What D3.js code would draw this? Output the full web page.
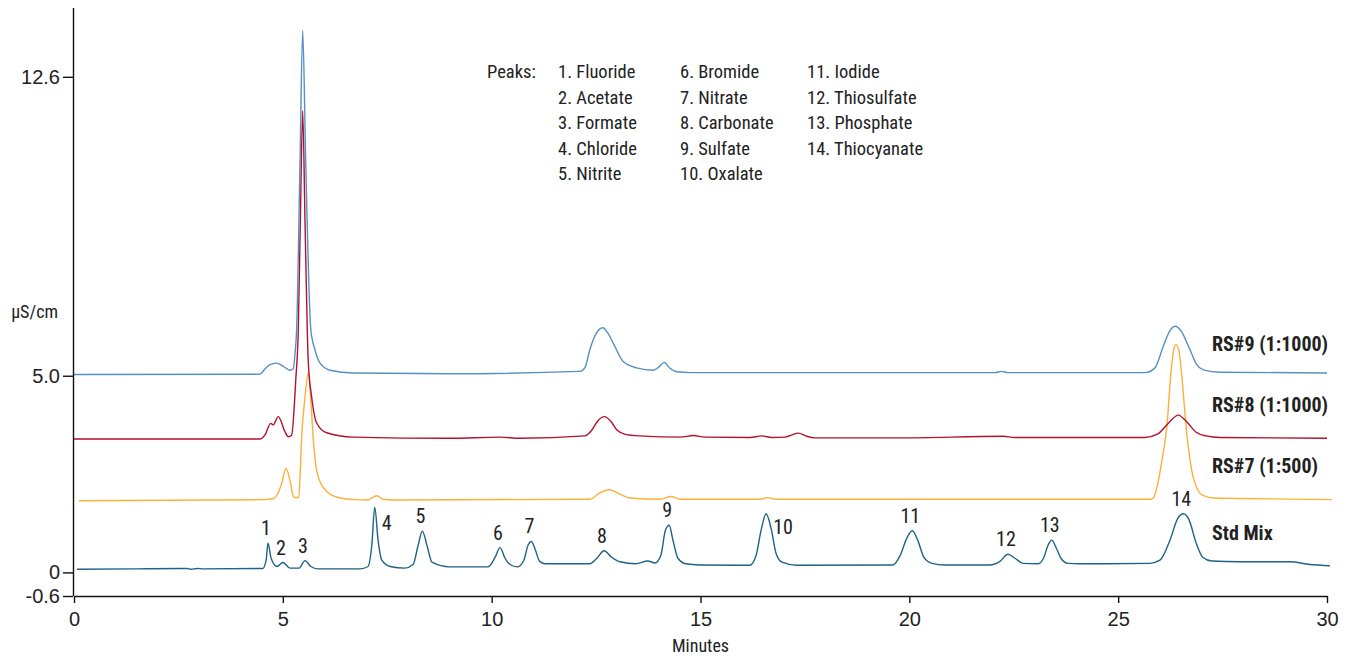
<!DOCTYPE html>
<html>
<head>
<meta charset="utf-8">
<script src="https://cdn.jsdelivr.net/npm/d3@7/dist/d3.min.js"></script>
<style>
  html, body { margin: 0; padding: 0; background: #fff; }
  svg { display: block; }
  text { font-family: "Liberation Sans Narrow", "Arial Narrow", "Roboto Condensed", sans-serif; fill: #222; }
</style>
</head>
<body>
<svg id="chart" width="1348" height="659"></svg>
<script>
// Retention time (min) and conductivity (µS/cm) pairs for each stacked chromatogram.
const stdMix = [
  [0.07,0.08],[1.5,0.09],[2.7,0.1],[2.8,0.08],[2.95,0.1],[3.1,0.09],[4.52,0.1],[4.6,0.31],[4.645,0.74],[4.72,0.36],
  [4.86,0.15],[5.0,0.25],[5.17,0.11],[5.39,0.11],[5.53,0.3],[5.67,0.15],[5.84,0.09],
  [6.85,0.09],[7.04,0.15],[7.13,0.69],[7.2,1.66],[7.28,0.82],[7.37,0.31],[7.57,0.15],
  [7.92,0.11],[8.12,0.2],[8.24,0.69],[8.34,1.05],[8.45,0.69],[8.57,0.26],[9.0,0.14],
  [9.91,0.14],[10.08,0.38],[10.2,0.63],[10.32,0.36],[10.44,0.2],[10.61,0.14],
  [10.77,0.31],[10.87,0.69],[10.95,0.79],[11.04,0.59],[11.15,0.28],[11.28,0.22],
  [12.35,0.22],[12.52,0.36],[12.69,0.55],[12.88,0.38],[13.07,0.27],[13.45,0.22],
  [13.74,0.29],[13.91,0.24],[14.05,0.43],[14.16,1.07],[14.25,1.2],[14.34,0.82],[14.46,0.36],[14.65,0.22],
  [14.99,0.19],[16.18,0.18],[16.33,0.43],[16.45,1.07],[16.57,1.49],[16.69,1.12],[16.81,0.48],[16.95,0.26],
  [17.31,0.18],[19.61,0.19],[19.78,0.43],[19.94,0.87],[20.07,1.06],[20.2,0.82],[20.35,0.38],[20.54,0.23],
  [20.85,0.19],[21.93,0.19],[22.17,0.28],[22.36,0.46],[22.53,0.36],[22.72,0.23],
  [23.08,0.22],[23.22,0.38],[23.32,0.69],[23.41,0.82],[23.51,0.64],[23.63,0.36],[23.8,0.23],
  [24.08,0.22],[25.76,0.23],[26.0,0.31],[26.24,0.82],[26.43,1.38],[26.56,1.49],[26.7,1.33],
  [26.86,0.77],[27.03,0.38],[27.24,0.29],[27.91,0.27],[29.11,0.27],[29.59,0.2],[30.07,0.17]
];

const rs7 = [
  [0.12,1.82],[4.57,1.85],[4.78,1.88],[4.88,2.0],[4.96,2.22],[5.08,2.64],[5.17,2.34],[5.26,1.92],
  [5.33,1.9],[5.38,1.92],[5.46,3.62],[5.53,4.46],[5.61,5.08],[5.67,4.39],[5.73,3.37],[5.81,2.6],
  [5.96,2.17],[6.3,1.91],[6.73,1.85],[7.04,1.84],[7.16,1.91],[7.25,1.95],[7.4,1.86],[7.68,1.84],
  [12.35,1.86],[12.59,2.02],[12.81,2.1],[13.07,1.99],[13.31,1.89],[14.03,1.86],[14.3,1.93],[14.51,1.86],
  [16.42,1.86],[16.61,1.9],[16.81,1.86],[25.76,1.86],[25.84,1.89],[25.95,2.27],[26.05,2.86],
  [26.17,3.75],[26.26,5.03],[26.33,5.66],[26.38,5.79],[26.45,5.66],[26.52,5.03],[26.64,3.55],
  [26.76,2.6],[26.91,2.09],[27.03,1.96],[27.3,1.89],[27.91,1.88],[30.12,1.85]
];

const rs8 = [
  [0.0,3.39],[4.45,3.39],[4.57,3.49],[4.71,3.79],[4.77,3.75],[4.89,3.96],[5.05,3.58],[5.13,3.45],
  [5.21,3.49],[5.31,4.9],[5.37,6.17],[5.42,8.98],[5.475,11.73],[5.53,8.98],[5.585,6.17],[5.61,5.33],
  [5.69,4.46],[5.81,3.8],[6.05,3.55],[6.68,3.44],[9.0,3.41],[10.2,3.44],[10.68,3.41],
  [12.23,3.47],[12.4,3.62],[12.54,3.85],[12.7,3.96],[12.86,3.83],[13.0,3.62],[13.2,3.51],[13.55,3.47],
  [14.51,3.44],[14.83,3.48],[15.11,3.44],[16.18,3.43],[16.47,3.47],[16.71,3.43],[17.02,3.44],
  [17.34,3.54],[17.52,3.47],[17.74,3.42],[19.78,3.42],[22.24,3.46],[22.53,3.43],[25.64,3.43],
  [25.95,3.52],[26.19,3.78],[26.44,4.0],[26.64,3.83],[26.86,3.57],[27.1,3.47],[27.44,3.43],[30.0,3.41]
];

const rs9 = [
  [0.0,5.03],[4.45,5.04],[4.57,5.17],[4.69,5.28],[4.85,5.32],[5.01,5.24],[5.17,5.14],[5.25,5.18],
  [5.29,5.54],[5.33,6.17],[5.41,10.33],[5.475,13.78],[5.55,10.33],[5.67,6.17],[5.77,5.66],[5.89,5.32],
  [6.13,5.14],[6.69,5.07],[9.0,5.05],[12.11,5.11],[12.23,5.2],[12.35,5.66],[12.5,6.07],[12.66,6.22],
  [12.79,6.07],[12.91,5.83],[13.15,5.36],[13.47,5.2],[13.87,5.14],[14.0,5.22],[14.13,5.34],[14.27,5.19],
  [14.43,5.1],[14.75,5.08],[22.05,5.08],[22.21,5.11],[22.36,5.08],[25.64,5.08],[25.88,5.2],[26.08,5.75],
  [26.24,6.15],[26.37,6.26],[26.5,6.15],[26.72,5.66],[26.88,5.28],[27.04,5.15],[27.44,5.09],[30.0,5.07]
];

// Series names, drawn at the right end of each trace (top to bottom).
const seriesNames = ["RS#9 (1:1000)", "RS#8 (1:1000)", "RS#7 (1:500)", "Std Mix"];
const seriesLabelLevels = [5.81, 4.26, 2.71, 1.0];

// Peak numbers and their retention times in the standard mix.
const peakNumbers = [1,2,3,4,5,6,7,8,9,10,11,12,13,14];
const peakTimes = [4.645,5.0,5.53,7.2,8.34,10.2,10.95,12.69,14.25,16.57,20.07,22.36,23.41,26.56];

// Peak identification key.
const peakNames = ["Fluoride","Acetate","Formate","Chloride","Nitrite","Bromide","Nitrate",
  "Carbonate","Sulfate","Oxalate","Iodide","Thiosulfate","Phosphate","Thiocyanate"];

// Axis ticks.
const xTicks = [0,5,10,15,20,25,30];
const yTicks = [-0.6, 0, 5.0, 12.6];
const yTickLabels = ["-0.6", "0", "5.0", "12.6"];

const svg = d3.select("#chart");
const x = d3.scaleLinear().domain([0, 30]).range([74, 1327]);
const y = d3.scaleLinear().domain([-0.6, 14.35]).range([596, 8]);

const line = d3.line()
  .x(d => x(d[0]))
  .y(d => y(d[1]))
  .curve(d3.curveMonotoneX);

const traces = [
  { data: rs9, color: "#5590c4" },
  { data: rs8, color: "#b3112c" },
  { data: rs7, color: "#fdb03a" },
  { data: stdMix, color: "#1d6383" }
];

// Draw back to front so the blue and red spikes sit over the yellow one.
const drawOrder = [3, 2, 1, 0];
svg.append("g").selectAll("path")
  .data(drawOrder.map(i => traces[i]))
  .join("path")
  .attr("d", d => line(d.data))
  .attr("fill", "none")
  .attr("stroke", d => d.color)
  .attr("stroke-width", 1.4)
  .attr("stroke-linejoin", "round");

// Axes
const xAxis = d3.axisBottom(x).tickValues(xTicks).tickFormat(d3.format("d"))
  .tickSizeInner(7).tickSizeOuter(0).tickPadding(9);
const gx = svg.append("g").attr("transform", `translate(0,${y(-0.6)})`).call(xAxis);

const yAxis = d3.axisLeft(y).tickValues(yTicks)
  .tickFormat((d, i) => yTickLabels[i])
  .tickSizeInner(10).tickSizeOuter(0).tickPadding(3);
const gy = svg.append("g").attr("transform", `translate(${x(0) - 1},0)`).call(yAxis);

[gx, gy].forEach(g => {
  g.select(".domain").attr("stroke", "#111").attr("stroke-width", 1.4);
  g.selectAll(".tick line").attr("stroke", "#111").attr("stroke-width", 1.4);
  g.selectAll(".tick text")
    .style("font-family", "'Liberation Sans Narrow', 'Arial Narrow', sans-serif")
    .style("font-size", "20px").attr("fill", "#222");
});
gy.select(".domain").attr("d", `M0.5,${y(-0.6)}V8`);

// Axis titles
svg.append("text").attr("x", x(15)).attr("y", 652)
  .attr("text-anchor", "middle").style("font-size", "18px").text("Minutes");
svg.append("text").attr("x", 58).attr("y", 318)
  .attr("text-anchor", "end").style("font-size", "18px").text("µS/cm");

// Series labels
svg.append("g").selectAll("text")
  .data(seriesNames)
  .join("text")
  .attr("x", 1212)
  .attr("y", (d, i) => y(seriesLabelLevels[i]) + 7)
  .style("font-size", "20px").style("font-weight", "bold").attr("fill", "#111")
  .text(d => d);

// Peak numbers above the standard-mix peaks
const apexValue = t => {
  let best = stdMix[0];
  stdMix.forEach(p => { if (Math.abs(p[0] - t) < Math.abs(best[0] - t)) best = p; });
  return best[1];
};
const labelShift = { 4: [12, 23], 10: [17, 20] };
svg.append("g").selectAll("text")
  .data(peakNumbers)
  .join("text")
  .attr("x", (d, i) => x(peakTimes[i]) + (labelShift[d] ? labelShift[d][0] : -2))
  .attr("y", (d, i) => y(apexValue(peakTimes[i])) + (labelShift[d] ? labelShift[d][1] : -8))
  .attr("text-anchor", "middle")
  .style("font-size", "20px").attr("fill", "#222")
  .text(d => d);

// Peak key
const key = svg.append("g").style("font-size", "18.5px");
key.append("text").attr("x", 487).attr("y", 78).text("Peaks:");
const colX = [558, 680, 807];
peakNames.forEach((name, i) => {
  const col = Math.floor(i / 5), row = i % 5;
  key.append("text")
    .attr("x", colX[col])
    .attr("y", 78 + row * 25.5)
    .text(`${peakNumbers[i]}. ${name}`);
});
</script>
</body>
</html>
